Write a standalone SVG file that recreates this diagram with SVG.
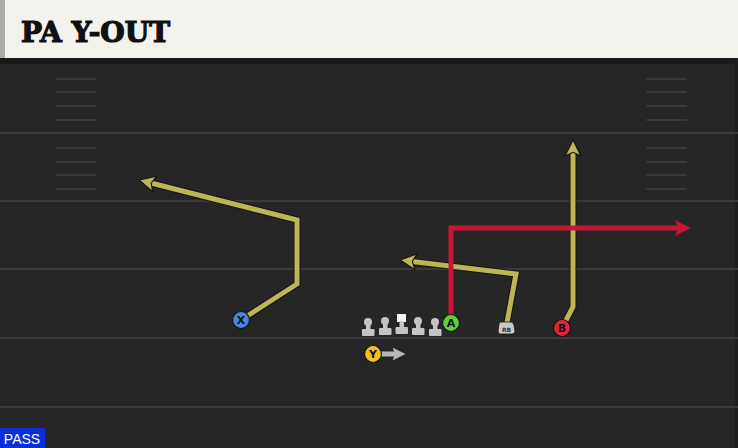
<svg xmlns="http://www.w3.org/2000/svg" width="738" height="448" viewBox="0 0 738 448">
<defs>
<style>
.hash{stroke:#3a3a3a;stroke-width:2;stroke-linecap:round}
.yard{stroke:#3b3b3b;stroke-width:2}
.rt{fill:none;stroke-width:5;stroke-linejoin:miter;stroke-linecap:butt}
.rtb{fill:none;stroke:#141414;stroke-width:7;stroke-linejoin:miter}
.yel{stroke:#bcb655}
.red{stroke:#c41738}
.gray{stroke:#b8b8b8}
.lbl{font-family:"DejaVu Sans","Liberation Sans",sans-serif;font-weight:bold;font-size:11px;text-anchor:middle;fill:#111}
.ol{fill:#c4c4c4}
.pl{stroke:#141414;stroke-width:1.2}
</style>
<marker id="ay" viewBox="0 0 10 10" refX="5" refY="5" markerWidth="3.6" markerHeight="3.6" orient="auto" markerUnits="strokeWidth"><path d="M0.6,0.6 L9.4,5 L0.6,9.4 L2.6,5 z" fill="#bcb655" stroke="#141414" stroke-width="0.6"/></marker>
<marker id="ar" viewBox="0 0 10 10" refX="5" refY="5" markerWidth="3.2" markerHeight="3.2" orient="auto" markerUnits="strokeWidth"><path d="M0,0 L10,5 L0,10 L2,5 z" fill="#c41738"/></marker>
<marker id="ag" viewBox="0 0 10 10" refX="5" refY="5" markerWidth="2.6" markerHeight="2.6" orient="auto" markerUnits="strokeWidth"><path d="M0,0 L10,5 L0,10 L2,5 z" fill="#b8b8b8"/></marker>
</defs>
<rect width="738" height="448" fill="#262626"/>
<rect x="0" y="58" width="738" height="6" fill="#1a1a1a"/>
<rect x="735" y="58" width="3" height="390" fill="#1e1e1e"/>
<g id="field">
<line class="yard" x1="0" y1="133" x2="738" y2="133"/>
<line class="yard" x1="0" y1="201" x2="738" y2="201"/>
<line class="yard" x1="0" y1="269" x2="738" y2="269"/>
<line class="yard" x1="0" y1="338" x2="738" y2="338"/>
<line class="yard" x1="0" y1="407" x2="738" y2="407"/>
<g class="hash">
<line x1="57" y1="79" x2="95" y2="79"/><line x1="57" y1="92" x2="95" y2="92"/><line x1="57" y1="106" x2="95" y2="106"/><line x1="57" y1="120" x2="95" y2="120"/>
<line x1="57" y1="148" x2="95" y2="148"/><line x1="57" y1="162" x2="95" y2="162"/><line x1="57" y1="175" x2="95" y2="175"/><line x1="57" y1="189" x2="95" y2="189"/>
<line x1="647" y1="79" x2="686" y2="79"/><line x1="647" y1="92" x2="686" y2="92"/><line x1="647" y1="106" x2="686" y2="106"/><line x1="647" y1="120" x2="686" y2="120"/>
<line x1="647" y1="148" x2="686" y2="148"/><line x1="647" y1="162" x2="686" y2="162"/><line x1="647" y1="175" x2="686" y2="175"/><line x1="647" y1="189" x2="686" y2="189"/>
</g>
</g>
<g id="header">
<rect x="0" y="0" width="738" height="58" fill="#f4f2ec"/>
<rect x="0" y="0" width="5" height="58" fill="#a9aca9"/>
<text x="21" y="42" font-family="DejaVu Serif,'Liberation Serif',serif" font-weight="bold" font-size="27" fill="#111" stroke="#111" stroke-width="1.2" textLength="149" lengthAdjust="spacingAndGlyphs">PA Y-OUT</text>
</g>
<g id="connectors">
<path class="rtb" d="M241,320 L297,284 L297,220 L147,182"/>
<path class="rt yel" d="M241,320 L297,284 L297,220 L147,182" marker-end="url(#ay)"/>
<path class="rtb" d="M506,328 L516,274 L408,261"/>
<path class="rt yel" d="M506,328 L516,274 L408,261" marker-end="url(#ay)"/>
<path class="rtb" d="M562,328 L573,307 L573,148"/>
<path class="rt yel" d="M562,328 L573,307 L573,148" marker-end="url(#ay)"/>
<path class="rt red" d="M451,323 L451,228 L683,228" marker-end="url(#ar)"/>
<path class="rt gray" d="M373,354 L399,354" marker-end="url(#ag)"/>
</g>
<g id="OL">
<g class="ol">
<circle cx="368" cy="322" r="4"/><rect x="366" y="322" width="4.5" height="8"/><rect x="362" y="329" width="12.5" height="7" rx="1"/>
<circle cx="385" cy="321" r="4"/><rect x="383" y="321" width="4.5" height="8"/><rect x="379" y="328" width="12.5" height="7" rx="1"/>
<rect x="397" y="314" width="9" height="8" fill="#f2f2f2"/><rect x="399.5" y="321" width="4.5" height="7"/><rect x="395.5" y="327" width="12.5" height="7" rx="1"/>
<circle cx="418" cy="321" r="4"/><rect x="416" y="321" width="4.5" height="8"/><rect x="412" y="328" width="12.5" height="7" rx="1"/>
<circle cx="435" cy="322" r="4"/><rect x="433" y="322" width="4.5" height="8"/><rect x="429" y="329" width="12.5" height="7" rx="1"/>
</g>
</g>
<g id="X"><circle class="pl" cx="241" cy="320" r="8.5" fill="#4a86e0"/><text class="lbl" x="241" y="324">X</text></g>
<g id="Y"><circle class="pl" cx="373" cy="354" r="8.5" fill="#f2c21c"/><text class="lbl" x="373" y="358">Y</text></g>
<g id="A"><circle class="pl" cx="451" cy="323" r="8.5" fill="#5ccf3a"/><text class="lbl" x="451" y="327">A</text></g>
<g id="B"><circle class="pl" cx="562" cy="328" r="8.5" fill="#e3233e"/><text class="lbl" x="562" y="332">B</text></g>
<g id="RB"><path d="M499,324 Q499,322 501,322 L511,322 Q513,322 514,325 L515,331 Q515,334 512,334 L500,334 Q498,334 498,331 Z" fill="#c8c8c8" stroke="#141414" stroke-width="0.8"/><text x="506.5" y="331.5" font-family="DejaVu Sans,sans-serif" font-weight="bold" font-size="6" text-anchor="middle" fill="#333">RB</text></g>
<g id="pass"><rect x="0" y="428" width="45" height="20" fill="#0a2fd8"/><text x="22" y="444" font-family="'Liberation Sans',Arial,sans-serif" font-size="14" fill="#fff" text-anchor="middle">PASS</text></g>
</svg>
